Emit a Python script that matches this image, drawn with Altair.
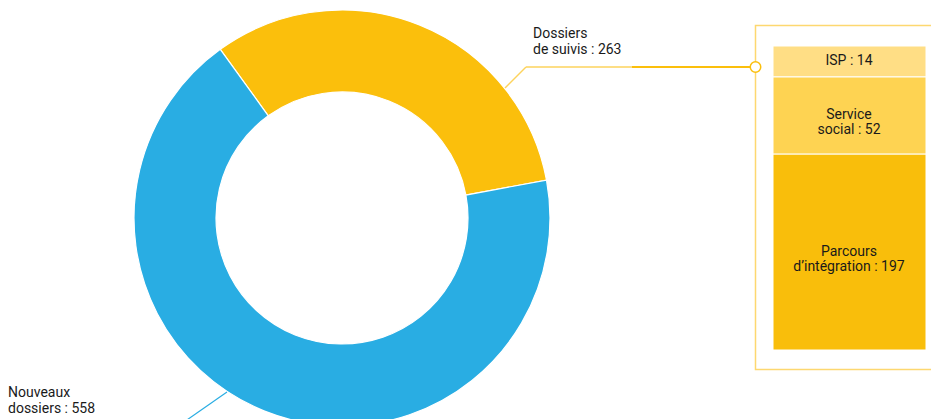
import math
import altair as alt
import pandas as pd

# ---- data ----
donut_names = ["Dossiers\nde suivis", "Nouveaux\ndossiers"]
donut_values = [263, 558]
donut_colors = ["#FBBF0C", "#29ADE3"]

sub_names = ["Parcours\nd’intégration", "Service\nsocial", "ISP"]
sub_values = [197, 52, 14]
sub_colors = ["#F9BE0B", "#FED352", "#FFDE85"]

FONT = "Roboto"
FS = 14

donut_df = pd.DataFrame({"name": donut_names, "value": donut_values, "ord": list(range(len(donut_names)))})
donut_df["label"] = donut_df["name"] + " : " + donut_df["value"].astype(str)

sub_df = pd.DataFrame({"name": sub_names, "value": sub_values, "ord": list(range(len(sub_names)))})
sub_df["label"] = sub_df["name"] + " : " + sub_df["value"].astype(str)

one = pd.DataFrame({"a": [0]})

start = 5.658
donut = alt.Chart(donut_df).mark_arc(radius=208, radius2=126, stroke="white", strokeWidth=1.2).encode(
    theta=alt.Theta("value:Q", stack=True, scale=alt.Scale(range=[start, start + 2 * math.pi])),
    order=alt.Order("ord:Q"),
    color=alt.Color("name:N", scale=alt.Scale(domain=donut_names, range=donut_colors), legend=None),
    x=alt.value(342),
    y=alt.value(218),
)

lbl_suivi = alt.Chart(donut_df).transform_filter("datum.ord == 0").mark_text(
    align="left", baseline="top", font=FONT, fontSize=FS, lineHeight=16, lineBreak="\n", color="#1a1a1a"
).encode(text="label:N", x=alt.value(533), y=alt.value(27))

lbl_nouv = alt.Chart(donut_df).transform_filter("datum.ord == 1").mark_text(
    align="left", baseline="top", font=FONT, fontSize=FS, lineHeight=16, lineBreak="\n", color="#1a1a1a"
).encode(text="label:N", x=alt.value(8), y=alt.value(386))

base = alt.Chart(one)
lead_diag = base.mark_rule(color="#FDD35C", strokeWidth=1.5).encode(
    x=alt.value(505), y=alt.value(88), x2=alt.value(526), y2=alt.value(67))
lead_h1 = base.mark_rule(color="#FDD35C", strokeWidth=1.5).encode(
    x=alt.value(526), y=alt.value(67), x2=alt.value(632), y2=alt.value(67))
lead_h2 = base.mark_rule(color="#FBBF0C", strokeWidth=2).encode(
    x=alt.value(632), y=alt.value(67), x2=alt.value(755), y2=alt.value(67))
lead_blue = base.mark_rule(color="#29ADE3", strokeWidth=1.2).encode(
    x=alt.value(227), y=alt.value(392), x2=alt.value(184), y2=alt.value(422))

box = base.mark_rect(filled=False, stroke="#FDD870", strokeWidth=1.5).encode(
    x=alt.value(755.5), x2=alt.value(950), y=alt.value(25.5), y2=alt.value(369.5))

dot = base.mark_point(shape="circle", size=110, filled=True, fill="white", stroke="#FBBF0C",
                      strokeWidth=1.5, opacity=1).encode(x=alt.value(755.5), y=alt.value(67))

ysc = alt.Scale(range=[350, 46], nice=False, zero=True)
stacked = alt.Chart(sub_df).transform_calculate(
    h="pow(datum.value, 0.7)"
).transform_stack(
    stack="h", as_=["h0", "h1"], groupby=[], sort=[alt.SortField("ord", order="ascending")]
).transform_calculate(mid="(datum.h0 + datum.h1) / 2")

bars = stacked.mark_rect(stroke="white", strokeWidth=1).encode(
    x=alt.value(773), x2=alt.value(926),
    y=alt.Y("h0:Q", scale=ysc, axis=None), y2="h1:Q",
    color=alt.Color("name:N", scale=alt.Scale(domain=sub_names, range=sub_colors), legend=None),
)
bar_txt = stacked.mark_text(
    align="center", baseline="middle", font=FONT, fontSize=FS, lineHeight=15, lineBreak="\n", color="#1a1a1a"
).encode(x=alt.value(849), y=alt.Y("mid:Q", scale=ysc, axis=None), text="label:N")

bar_layer = alt.layer(bars, bar_txt)

chart = alt.layer(
    donut, lead_diag, lead_h1, lead_h2, lead_blue, box, bar_layer, dot, lbl_suivi, lbl_nouv
).resolve_scale(
    color="independent", y="independent", theta="independent"
).properties(
    width=931, height=419, autosize="none", padding=0
).configure_view(stroke=None)

chart.save("out.html", embed_options={"renderer": "svg", "actions": False})
